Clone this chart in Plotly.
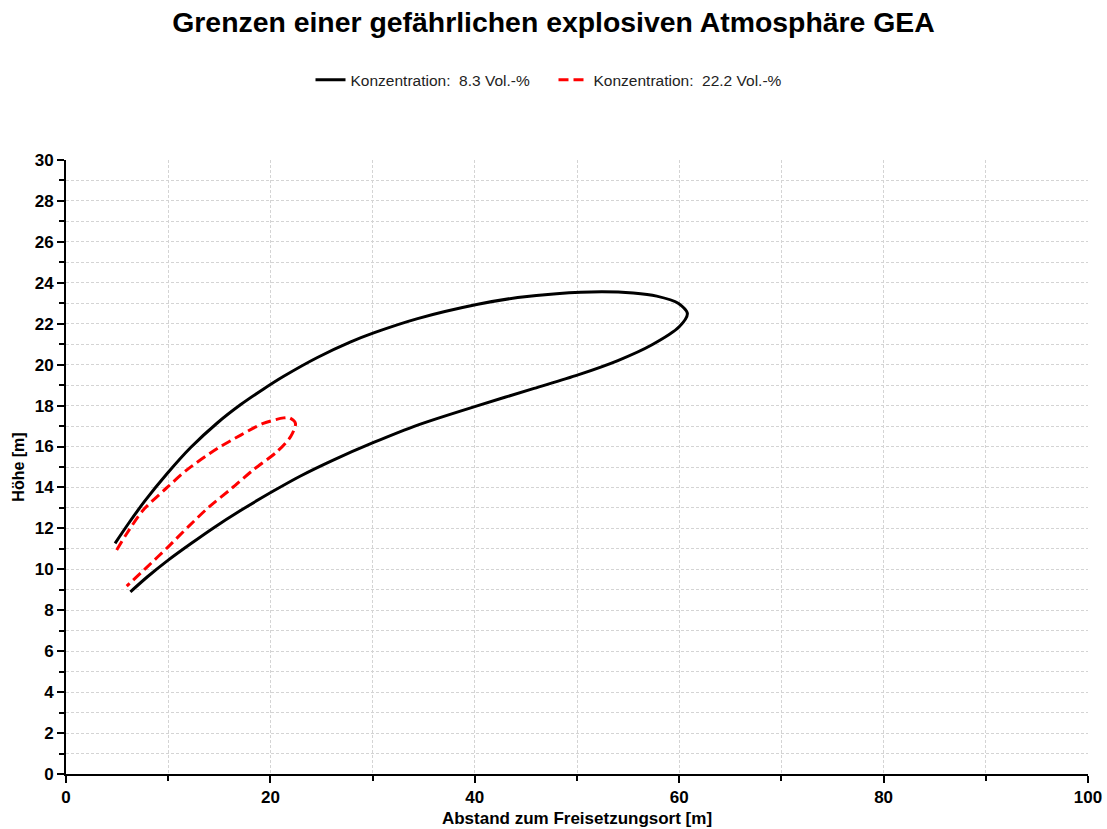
import plotly.graph_objects as go

# Concentration 8.3 Vol.-% contour (open at the left end)
x_83 = [4.8, 6.2, 7.7, 9.9, 12.2, 14.8, 17.1, 19.3, 21.3, 24.6, 27.8, 30.1, 34.4, 40.3, 44.2, 48.0, 52.4, 55.5, 57.8, 59.9, 60.8,
        60.0, 57.3, 54.0, 50.1, 45.8, 40.3, 34.4, 30.1, 26.2, 22.9, 20.2, 17.0, 14.5, 12.2, 10.0, 8.0, 6.3]
y_83 = [11.27, 12.3, 13.33, 14.68, 15.95, 17.15, 18.05, 18.8, 19.43, 20.35, 21.1, 21.55, 22.25, 22.95, 23.28, 23.47, 23.56, 23.5, 23.35, 23.0, 22.5,
        21.85, 20.96, 20.2, 19.5, 18.84, 18.0, 17.05, 16.2, 15.35, 14.55, 13.8, 12.85, 12.05, 11.25, 10.45, 9.65, 8.9]

# Concentration 22.2 Vol.-% contour
x_222 = [4.96, 5.95, 7.56, 9.9, 11.8, 14.8, 17.1, 19.3, 21.3, 21.9, 22.45, 22.0, 20.65, 18.3, 16.2, 14.0, 12.0, 10.0, 7.9, 5.94]
y_222 = [10.94, 11.75, 12.9, 14.0, 14.85, 15.9, 16.56, 17.13, 17.4, 17.4, 17.13, 16.5, 15.75, 14.85, 13.95, 13.05, 12.1, 11.1, 10.1, 9.18]

name_83 = "Konzentration:&nbsp;&nbsp;8.3 Vol.-%"
name_222 = "Konzentration:&nbsp;&nbsp;22.2 Vol.-%"

FONT = "Liberation Sans, Arial, sans-serif"
GRID = "#d4d4d4"

fig = go.Figure()
fig.add_trace(go.Scatter(x=x_83, y=y_83, mode="lines", name=name_83,
                         line=dict(color="black", width=3, shape="spline", smoothing=0.8)))
fig.add_trace(go.Scatter(x=x_222, y=y_222, mode="lines", name=name_222,
                         line=dict(color="#ff0000", width=3, dash="10px,5px", shape="spline", smoothing=0.8)))

fig.update_layout(
    width=1107, height=829,
    margin=dict(l=66, r=19, t=160, b=55, autoexpand=False),
    paper_bgcolor="white", plot_bgcolor="white",
    font=dict(family=FONT, color="black"),
    title=dict(text="<b>Grenzen einer gefährlichen explosiven Atmosphäre GEA</b>",
               x=0.5, xanchor="center", y=0.973, yanchor="middle",
               font=dict(size=28.4, color="black", family=FONT)),
    legend=dict(orientation="h", xref="container", x=0.5, xanchor="center", y=1.13, yanchor="middle",
                entrywidth=198, entrywidthmode="pixels",
                font=dict(size=15.5, color="#222222", family=FONT), bgcolor="rgba(0,0,0,0)"),
    showlegend=True,
)

fig.update_xaxes(
    range=[0, 100], dtick=20, tick0=0, automargin=False,
    showline=True, linecolor="black", linewidth=2,
    ticks="outside", ticklen=7, tickwidth=2, tickcolor="black",
    tickfont=dict(size=17, color="black", family=FONT),
    tickprefix="<b>", ticksuffix="</b>",
    showgrid=True, gridcolor=GRID, griddash="3px,2px", gridwidth=1,
    minor=dict(dtick=10, tick0=0, showgrid=True, gridcolor=GRID, griddash="3px,2px",
               ticks="outside", ticklen=5, tickwidth=2, tickcolor="black"),
    zeroline=False,
    title=dict(text="<b>Abstand zum Freisetzungsort [m]</b>", font=dict(size=17, color="black", family=FONT),
               standoff=6),
)
fig.update_yaxes(
    range=[0, 30], dtick=2, tick0=0, automargin=False,
    showline=True, linecolor="black", linewidth=2,
    ticks="outside", ticklen=7, tickwidth=2, tickcolor="black",
    tickfont=dict(size=17, color="black", family=FONT),
    tickprefix="<b>", ticksuffix="</b>",
    showgrid=True, gridcolor=GRID, griddash="3px,2px", gridwidth=1,
    minor=dict(dtick=1, tick0=0, showgrid=True, gridcolor=GRID, griddash="3px,2px",
               ticks="outside", ticklen=5, tickwidth=2, tickcolor="black"),
    zeroline=False,
    title=dict(text="<b>Höhe [m]</b>", font=dict(size=16, color="black", family=FONT), standoff=6),
)

fig.write_html("out.html")
